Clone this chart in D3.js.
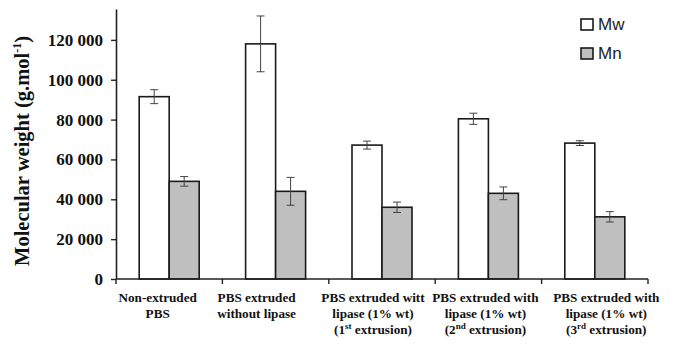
<!DOCTYPE html>
<html><head><meta charset="utf-8">
<script src="https://cdn.jsdelivr.net/npm/d3@7"></script>
<style>body{margin:0;background:#fff}svg{display:block}</style>
</head><body>
<svg id="c" width="676" height="349"></svg>
<script>
const categories = [
  ["Non-extruded", "PBS"],
  ["PBS extruded", "without lipase"],
  ["PBS extruded witt", "lipase (1% wt)", ["(1", "st", " extrusion)"]],
  ["PBS extruded with", "lipase (1% wt)", ["(2", "nd", " extrusion)"]],
  ["PBS extruded with", "lipase (1% wt)", ["(3", "rd", " extrusion)"]]
];
const seriesNames = ["Mw", "Mn"];
const mwValues = [91500, 118000, 67200, 80400, 68200];
const mwErrors = [3500, 14000, 2000, 2800, 1200];
const mnValues = [49000, 44000, 36000, 43000, 31200];
const mnErrors = [2400, 7000, 2600, 3200, 2600];
const yTicks = [0, 20000, 40000, 60000, 80000, 100000, 120000];
const colors = {Mw: "#ffffff", Mn: "#bfbfbf"};

(function () {
const svg = d3.select("#c");
const mL = 116, mR = 648, mT = 9, mB = 279;
const labelShift = [-11.5, -19, -9, -3, 11.5];
const x = d3.scaleBand().domain(d3.range(categories.length)).range([mL, mR]).paddingInner(0).paddingOuter(0);
const sub = d3.scaleBand().domain(seriesNames).range([0, 60]);
const y = d3.scaleLinear().domain([0, 135500]).range([mB, mT]);

const data = categories.map((c, i) => ({
  i,
  vals: [
    {s: "Mw", v: mwValues[i], e: mwErrors[i]},
    {s: "Mn", v: mnValues[i], e: mnErrors[i]}
  ]
}));

const g = svg.append("g");
const grp = g.selectAll("g.grp").data(data).join("g")
  .attr("transform", d => `translate(${x(d.i) + x.bandwidth()/2 - 30},0)`);
grp.selectAll("rect").data(d => d.vals).join("rect")
  .attr("x", d => sub(d.s))
  .attr("width", sub.bandwidth())
  .attr("y", d => y(d.v))
  .attr("height", d => y(0) - y(d.v))
  .attr("fill", d => colors[d.s])
  .attr("stroke", "#1a1a1a")
  .attr("stroke-width", 1.6);

const eb = grp.selectAll("g.eb").data(d => d.vals).join("g")
  .attr("transform", d => `translate(${sub(d.s) + sub.bandwidth()/2},0)`)
  .attr("stroke", "#444").attr("stroke-width", 1);
eb.append("line").attr("x1", 0).attr("x2", 0).attr("y1", d => y(d.v + d.e)).attr("y2", d => y(d.v - d.e));
eb.append("line").attr("x1", -4).attr("x2", 4).attr("y1", d => y(d.v + d.e)).attr("y2", d => y(d.v + d.e));
eb.append("line").attr("x1", -4).attr("x2", 4).attr("y1", d => y(d.v - d.e)).attr("y2", d => y(d.v - d.e));

// Y axis
const yAxis = d3.axisLeft(y).tickValues(yTicks).tickSize(5).tickSizeOuter(0)
  .tickFormat(d => d3.format(",")(d).replace(/,/g, " "));
const ya = svg.append("g").attr("transform", `translate(${mL},0)`).call(yAxis);
ya.select(".domain").attr("stroke", "#222").attr("stroke-width", 1.6);
ya.selectAll(".tick line").attr("stroke", "#222").attr("stroke-width", 1.4);
ya.selectAll(".tick text").attr("font-family", "'Liberation Serif', 'Times New Roman', serif")
  .attr("font-weight", "bold").attr("font-size", 17).attr("fill", "#111").attr("x", -13);

// X axis
svg.append("line").attr("x1", mL).attr("x2", mR).attr("y1", mB).attr("y2", mB)
  .attr("stroke", "#222").attr("stroke-width", 1.6);
const bounds = d3.range(categories.length + 1).map(i => i < categories.length ? x(i) : x(i-1) + x.bandwidth());
svg.selectAll("line.xt").data(bounds).join("line")
  .attr("x1", d => d).attr("x2", d => d).attr("y1", mB).attr("y2", mB + 5)
  .attr("stroke", "#222").attr("stroke-width", 1.4);

const lab = svg.selectAll("text.cat").data(categories).join("text")
  .attr("font-family", "'Liberation Serif', 'Times New Roman', serif")
  .attr("font-weight", "bold").attr("font-size", 13.2).attr("fill", "#111")
  .attr("text-anchor", "middle");
lab.each(function(d, i) {
  const t = d3.select(this);
  const cx = x(i) + x.bandwidth()/2 + labelShift[i];
  d.forEach((line, j) => {
    const ts = t.append("tspan").attr("x", cx).attr("y", 302 + j * 16);
    if (Array.isArray(line)) {
      ts.append("tspan").text(line[0]);
      ts.append("tspan").attr("font-size", 9).attr("dy", -5).text(line[1]);
      ts.append("tspan").attr("dy", 5).text(line[2]);
    } else ts.text(line);
  });
});

// Y label
svg.append("text")
  .attr("transform", `translate(29,151) rotate(-90)`)
  .attr("text-anchor", "middle")
  .attr("font-family", "'Liberation Serif', 'Times New Roman', serif")
  .attr("font-weight", "bold").attr("font-size", 20.5).attr("fill", "#111")
  .call(t => {
    t.append("tspan").text("Molecular weight (g.mol");
    t.append("tspan").attr("font-size", 12).attr("dy", -8).text("-1");
    t.append("tspan").attr("dy", 8).text(")");
  });

// Legend
const leg = svg.append("g").attr("transform", "translate(581,19)");
const li = leg.selectAll("g").data(seriesNames).join("g")
  .attr("transform", (d, i) => `translate(0,${i * 29})`);
li.append("rect").attr("width", 12).attr("height", 11)
  .attr("fill", d => colors[d]).attr("stroke", "#1a1a1a").attr("stroke-width", 1.6);
li.append("text").attr("x", 17).attr("y", 11)
  .attr("font-family", "'Liberation Sans', Arial, sans-serif").attr("font-size", 17).attr("fill", "#222")
  .text(d => d);
})();
</script>
</body></html>
